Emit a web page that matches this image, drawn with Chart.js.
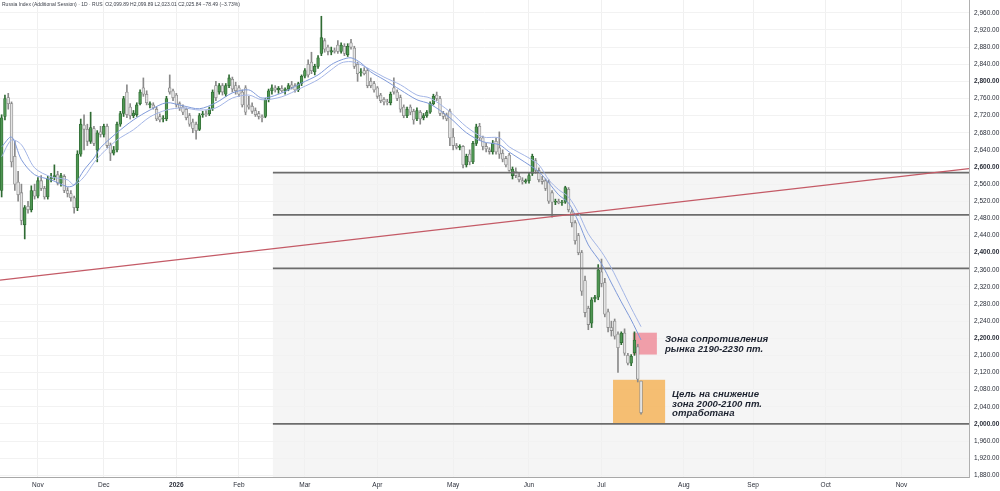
<!DOCTYPE html>
<html>
<head>
<meta charset="utf-8">
<script src="https://cdn.jsdelivr.net/npm/chart.js@4.4.1/dist/chart.umd.min.js"></script>
<style>
    html, body { margin: 0; padding: 0; background: #fff; }
    #wrap { position: relative; width: 1000px; height: 491px; }
    #leyenda {
        position: absolute; left: 2px; top: 1px;
        font: 5px "Liberation Sans", Arial, sans-serif; color: #3a3e48; white-space: nowrap;
    }
</style>
</head>
<body>
<div id="wrap">
    <canvas id="grafico" width="1000" height="491"></canvas>
    <div id="leyenda">Russia Index (Additional Session) · 1D · RUS &nbsp;O2,099.89 H2,099.89 L2,023.01 C2,025.84 −78.49 (−3.73%)</div>
</div>
<script>
// daily candles, index 0 = first bar on the left
const opens = [
    2545, 2718, 2762, 2748, 2625, 2565, 2540, 2465, 2508, 2500,
    2545, 2532, 2568, 2550, 2530, 2572, 2576, 2582, 2562, 2578,
    2545, 2538, 2528, 2505, 2630, 2698, 2688, 2660, 2690, 2640,
    2682, 2676, 2695, 2650, 2632, 2640, 2700, 2725, 2775, 2740,
    2720, 2722, 2748, 2785, 2770, 2745, 2745, 2735, 2718, 2712,
    2712, 2785, 2778, 2768, 2748, 2740, 2735, 2720, 2705, 2700,
    2688, 2722, 2725, 2724, 2736, 2790, 2775, 2790, 2770, 2790,
    2805, 2790, 2785, 2775, 2785, 2745, 2742, 2732, 2725, 2718,
    2718, 2757, 2778, 2785, 2780, 2784, 2778, 2782, 2792, 2790,
    2780, 2795, 2812, 2840, 2845, 2822, 2835, 2865, 2895, 2880,
    2868, 2872, 2885, 2870, 2882, 2862, 2890, 2878, 2840, 2820,
    2825, 2825, 2800, 2795, 2785, 2768, 2758, 2752, 2750, 2785,
    2775, 2762, 2740, 2720, 2740, 2730, 2712, 2728, 2715, 2720,
    2728, 2748, 2768, 2760, 2725, 2722, 2730, 2670, 2650, 2646,
    2648, 2605, 2630, 2612, 2655, 2695, 2668, 2648, 2640, 2635,
    2660, 2645, 2632, 2620, 2628, 2580, 2590, 2578, 2568, 2565,
    2568, 2585, 2615, 2592, 2570, 2568, 2565, 2540, 2518, 2520,
    2516, 2518, 2548, 2495, 2470, 2440, 2400, 2335, 2270, 2235,
    2292, 2296, 2355, 2330, 2262, 2225, 2240, 2210, 2190, 2212,
    2160, 2142, 2166, 2180, 2099.89
];
const highs = [
    2722, 2768, 2772, 2752, 2660, 2590, 2560, 2510, 2520, 2556,
    2560, 2575, 2580, 2555, 2578, 2585, 2605, 2590, 2585, 2582,
    2552, 2545, 2532, 2638, 2712, 2722, 2700, 2728, 2695, 2685,
    2695, 2700, 2700, 2656, 2648, 2705, 2730, 2765, 2792, 2748,
    2732, 2750, 2780, 2808, 2778, 2752, 2750, 2740, 2724, 2720,
    2765, 2815, 2782, 2772, 2752, 2745, 2738, 2725, 2712, 2705,
    2725, 2730, 2732, 2740, 2780, 2800, 2795, 2795, 2795, 2815,
    2810, 2798, 2790, 2780, 2790, 2765, 2750, 2738, 2730, 2722,
    2760, 2782, 2792, 2790, 2788, 2790, 2785, 2795, 2800, 2795,
    2798, 2815, 2830, 2850, 2868, 2840, 2860, 2952, 2900, 2885,
    2880, 2878, 2895, 2890, 2888, 2888, 2898, 2882, 2845, 2830,
    2832, 2830, 2808, 2800, 2788, 2772, 2762, 2758, 2775, 2808,
    2780, 2768, 2745, 2740, 2745, 2735, 2738, 2732, 2725, 2732,
    2752, 2770, 2775, 2765, 2730, 2726, 2735, 2690, 2655, 2652,
    2650, 2630, 2640, 2660, 2700, 2702, 2672, 2655, 2645, 2662,
    2668, 2682, 2640, 2625, 2632, 2600, 2598, 2585, 2575, 2572,
    2585, 2630, 2620, 2598, 2578, 2572, 2570, 2545, 2525, 2525,
    2522, 2555, 2552, 2500, 2475, 2445, 2405, 2345, 2275, 2295,
    2300, 2372, 2385, 2340, 2268, 2240, 2245, 2215, 2215, 2222,
    2165, 2162, 2215, 2186, 2099.89
];
const lows = [
    2530, 2710, 2735, 2600, 2545, 2520, 2465, 2432, 2492, 2495,
    2525, 2528, 2545, 2525, 2525, 2565, 2570, 2558, 2555, 2540,
    2530, 2520, 2492, 2498, 2625, 2640, 2650, 2655, 2650, 2612,
    2670, 2670, 2645, 2615, 2628, 2635, 2695, 2718, 2715, 2712,
    2715, 2718, 2745, 2765, 2745, 2738, 2735, 2708, 2705, 2705,
    2708, 2770, 2755, 2740, 2732, 2722, 2710, 2695, 2680, 2665,
    2685, 2716, 2718, 2720, 2732, 2755, 2770, 2768, 2765, 2785,
    2775, 2770, 2765, 2740, 2722, 2735, 2725, 2718, 2712, 2705,
    2715, 2752, 2770, 2775, 2772, 2775, 2770, 2778, 2782, 2775,
    2776, 2790, 2808, 2810, 2818, 2815, 2830, 2860, 2868, 2862,
    2862, 2866, 2865, 2866, 2860, 2858, 2875, 2830, 2800, 2812,
    2815, 2785, 2785, 2775, 2760, 2750, 2745, 2745, 2745, 2770,
    2755, 2728, 2715, 2715, 2722, 2700, 2708, 2700, 2710, 2716,
    2725, 2745, 2755, 2720, 2712, 2708, 2650, 2640, 2642, 2640,
    2598, 2600, 2605, 2608, 2650, 2662, 2640, 2635, 2630, 2630,
    2630, 2620, 2612, 2600, 2590, 2572, 2575, 2565, 2560, 2562,
    2562, 2580, 2585, 2565, 2560, 2545, 2515, 2483, 2512, 2514,
    2510, 2515, 2495, 2460, 2420, 2395, 2300, 2250, 2220, 2225,
    2285, 2290, 2320, 2250, 2215, 2205, 2198, 2120, 2185, 2160,
    2138, 2136, 2160, 2098, 2023.01
];
const closes = [
    2715, 2760, 2748, 2612, 2560, 2535, 2475, 2505, 2500, 2545,
    2532, 2568, 2550, 2530, 2572, 2575, 2580, 2562, 2580, 2545,
    2538, 2528, 2505, 2630, 2700, 2688, 2660, 2692, 2655, 2680,
    2676, 2695, 2650, 2632, 2640, 2700, 2725, 2760, 2722, 2720,
    2726, 2745, 2775, 2770, 2750, 2748, 2738, 2712, 2710, 2714,
    2760, 2775, 2762, 2745, 2738, 2728, 2715, 2700, 2690, 2685,
    2720, 2724, 2722, 2736, 2775, 2762, 2790, 2775, 2790, 2808,
    2782, 2778, 2770, 2745, 2728, 2740, 2730, 2722, 2718, 2715,
    2757, 2778, 2785, 2780, 2784, 2778, 2782, 2790, 2786, 2780,
    2795, 2812, 2825, 2815, 2825, 2835, 2855, 2902, 2875, 2870,
    2872, 2870, 2870, 2885, 2865, 2882, 2880, 2835, 2818, 2822,
    2818, 2790, 2790, 2780, 2765, 2755, 2752, 2750, 2770, 2775,
    2760, 2735, 2720, 2735, 2728, 2710, 2732, 2712, 2720, 2728,
    2748, 2765, 2760, 2725, 2718, 2712, 2668, 2650, 2646, 2648,
    2605, 2625, 2612, 2655, 2694, 2668, 2648, 2642, 2636, 2655,
    2635, 2630, 2618, 2605, 2592, 2595, 2580, 2570, 2565, 2568,
    2580, 2625, 2592, 2570, 2566, 2550, 2520, 2518, 2520, 2516,
    2518, 2552, 2500, 2470, 2428, 2400, 2310, 2260, 2232, 2290,
    2296, 2360, 2328, 2256, 2225, 2218, 2205, 2178, 2212, 2165,
    2142, 2158, 2196, 2104.33, 2025.84
];

// two moving averages (bar index -> value)
const maIdx  = [0, 3, 6, 10, 15, 20, 22, 25, 28, 30, 35, 40, 45, 50, 55, 60, 65, 70, 75, 79, 85, 91, 96, 100, 103, 106, 109, 112, 116, 121, 126, 130, 136, 141, 146, 151, 154, 160, 163, 166, 169, 172, 175, 178, 182, 185, 188, 191, 194];
const maFast = [2647, 2670, 2617, 2582, 2570, 2554, 2558, 2593, 2621, 2645, 2680, 2710, 2733, 2750, 2743, 2736, 2750, 2773, 2780, 2761, 2773, 2796, 2815, 2839, 2850, 2855, 2843, 2822, 2804, 2780, 2757, 2747, 2715, 2680, 2659, 2652, 2635, 2605, 2589, 2563, 2535, 2516, 2472, 2418, 2374, 2329, 2285, 2243, 2196];
const maSlow = [2624, 2663, 2652, 2598, 2577, 2570, 2558, 2577, 2610, 2628, 2663, 2687, 2717, 2733, 2738, 2733, 2738, 2761, 2768, 2757, 2764, 2785, 2804, 2827, 2843, 2846, 2839, 2827, 2810, 2792, 2768, 2761, 2729, 2694, 2670, 2668, 2647, 2621, 2605, 2570, 2547, 2530, 2493, 2444, 2402, 2364, 2318, 2271, 2227];

// axis ticks
const monthTicks  = [11, 31, 53, 72, 92, 114, 137, 160, 182, 207, 228, 250, 273];
const monthLabels = ['Nov', 'Dec', '2026', 'Feb', 'Mar', 'Apr', 'May', 'Jun', 'Jul', 'Aug', 'Sep', 'Oct', 'Nov'];
const priceTicks  = [1880, 1920, 1960, 2000, 2040, 2080, 2120, 2160, 2200, 2240, 2280, 2320, 2360, 2400, 2440, 2480, 2520, 2560, 2600, 2640, 2680, 2720, 2760, 2800, 2840, 2880, 2920, 2960];

// drawings
const levels      = [2587, 2488, 2363, 2000];
const levelStart  = 82.3;
const trendLine   = [[-0.5, 2336], [293.5, 2596]];
const resistZone  = [191.5, 198.8, 2162, 2213];   // x0, x1, y0, y1
const targetZone  = [185.5, 201.3, 2002, 2103];
const resistText  = ['Зона сопротивления', 'рынка 2190-2230 пт.'];
const targetText  = ['Цель на снижение', 'зона 2000-2100 пт.', 'отработана'];

const X_MIN = -0.5, X_MAX = 293.5;
const idx = closes.map((c, i) => i);
const sube = idx.map(i => closes[i] >= opens[i]);

const zonas = {
    id: 'zonas',
    beforeDraw(chart) {
        const { ctx, chartArea: a, scales: { x, y } } = chart;
        ctx.save();
        ctx.fillStyle = '#f5f5f5';
        const x0 = x.getPixelForValue(levelStart), y0 = y.getPixelForValue(levels[0]);
        ctx.fillRect(x0, y0, a.right - x0, a.bottom - y0);
        ctx.restore();
    },
    beforeDatasetsDraw(chart) {
        const { ctx, scales: { x, y } } = chart;
        const caja = (z, color) => {
            const x0 = x.getPixelForValue(z[0]), x1 = x.getPixelForValue(z[1]);
            const y0 = y.getPixelForValue(z[3]), y1 = y.getPixelForValue(z[2]);
            ctx.fillStyle = color;
            ctx.fillRect(x0, y0, x1 - x0, y1 - y0);
        };
        ctx.save();
        caja(targetZone, 'rgba(245, 180, 90, 0.85)');
        caja(resistZone, 'rgba(236, 110, 128, 0.65)');
        ctx.restore();
    },
    afterDatasetsDraw(chart) {
        const { ctx, scales: { x, y } } = chart;
        ctx.save();
        ctx.fillStyle = '#1d2330';
        ctx.font = 'italic bold 9.6px "Liberation Sans", Arial, sans-serif';
        ctx.textBaseline = 'alphabetic';
        let tx = x.getPixelForValue(resistZone[1]) + 8;
        let ty = y.getPixelForValue(resistZone[3]) + 9;
        resistText.forEach((t, k) => ctx.fillText(t, tx, ty + k * 10));
        tx = x.getPixelForValue(targetZone[1]) + 7;
        ty = y.getPixelForValue(targetZone[3]) + 17;
        targetText.forEach((t, k) => ctx.fillText(t, tx, ty + k * 9.8));
        ctx.restore();
    }
};

const datasets = [
    {
        type: 'bar', label: 'mechas', order: 4, grouped: false,
        data: idx.map(i => ({ x: i, y: [lows[i], highs[i]] })),
        backgroundColor: idx.map(i => sube[i] ? '#2f6b33' : '#8a8a8a'),
        barThickness: 1
    },
    {
        type: 'bar', label: 'velas', order: 3, grouped: false,
        data: idx.map(i => ({ x: i, y: [opens[i], closes[i]] })),
        backgroundColor: idx.map(i => sube[i] ? '#4f9653' : '#e4e4e4'),
        borderColor: idx.map(i => sube[i] ? '#2f6b33' : '#8a8a8a'),
        borderWidth: 0.8, borderSkipped: false,
        barThickness: 2.8
    },
    {
        type: 'line', label: 'MA rápida', order: 1,
        data: maIdx.map((v, k) => ({ x: v, y: maFast[k] })),
        borderColor: '#7f9ad9', borderWidth: 1, pointRadius: 0, tension: 0.3
    },
    {
        type: 'line', label: 'MA lenta', order: 1,
        data: maIdx.map((v, k) => ({ x: v, y: maSlow[k] })),
        borderColor: '#a3b5e6', borderWidth: 1, pointRadius: 0, tension: 0.3
    },
    ...levels.map(v => ({
        type: 'line', label: 'nivel ' + v, order: 2,
        data: [{ x: levelStart, y: v }, { x: X_MAX, y: v }],
        borderColor: '#6c6c6c', borderWidth: 1.8, pointRadius: 0
    })),
    {
        type: 'line', label: 'tendencia', order: 0,
        data: trendLine.map(p => ({ x: p[0], y: p[1] })),
        borderColor: '#c45a66', borderWidth: 1.2, pointRadius: 0
    }
];

const ctx = document.getElementById('grafico').getContext('2d');
new Chart(ctx, {
    type: 'bar',
    data: { datasets: datasets },
    plugins: [zonas],
    options: {
        responsive: false,
        animation: false,
        layout: { padding: 0 },
        plugins: { legend: { display: false }, tooltip: { enabled: false } },
        scales: {
            x: {
                type: 'linear', min: X_MIN, max: X_MAX, offset: false,
                afterBuildTicks: s => { s.ticks = monthTicks.map(v => ({ value: v })); },
                afterFit: s => { s.height = 14; s.paddingLeft = 0; s.paddingRight = 0; },
                grid: { color: '#f0f0f0', offset: false, drawTicks: false },
                border: { color: '#a8a8a8' },
                ticks: {
                    autoSkip: false, maxRotation: 0, padding: 4, color: '#2a2e39',
                    font: c => ({ family: '"Liberation Sans", Arial, sans-serif', size: 6.5,
                        weight: (c.tick && monthLabels[monthTicks.indexOf(c.tick.value)] === '2026') ? 'bold' : 'normal' }),
                    callback: v => monthLabels[monthTicks.indexOf(v)] || ''
                }
            },
            y: {
                type: 'linear', position: 'right', min: 1876, max: 2990, beginAtZero: false,
                afterBuildTicks: s => { s.ticks = priceTicks.map(v => ({ value: v })); },
                afterFit: s => { s.width = 31; s.paddingTop = 0; s.paddingBottom = 0; },
                grid: { color: '#f2f2f2', drawTicks: false },
                border: { color: '#b0b0b0' },
                ticks: {
                    padding: 5, color: '#2a2e39',
                    font: c => ({ family: '"Liberation Sans", Arial, sans-serif', size: 6.5,
                        weight: (c.tick && c.tick.value % 200 === 0) ? 'bold' : 'normal' }),
                    callback: v => v.toLocaleString('en-US', { minimumFractionDigits: 2, maximumFractionDigits: 2 })
                }
            }
        }
    }
});
</script>
</body>
</html>
